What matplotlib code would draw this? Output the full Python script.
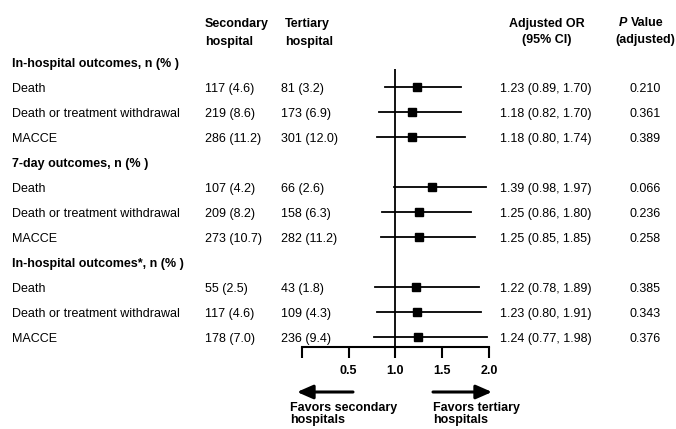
import matplotlib
matplotlib.use("Agg")
import matplotlib.pyplot as plt
from matplotlib import transforms

plt.rcParams['font.family'] = ['Liberation Sans', 'DejaVu Sans']

# ---- data ----
groups = ["In-hospital outcomes, n (% )", "7-day outcomes, n (% )", "In-hospital outcomes*, n (% )"]
outcomes = ["Death", "Death or treatment withdrawal", "MACCE"]
secondary = ["117 (4.6)", "219 (8.6)", "286 (11.2)",
             "107 (4.2)", "209 (8.2)", "273 (10.7)",
             "55 (2.5)", "117 (4.6)", "178 (7.0)"]
tertiary = ["81 (3.2)", "173 (6.9)", "301 (12.0)",
            "66 (2.6)", "158 (6.3)", "282 (11.2)",
            "43 (1.8)", "109 (4.3)", "236 (9.4)"]
odds_ratio = [1.23, 1.18, 1.18, 1.39, 1.25, 1.25, 1.22, 1.23, 1.24]
ci_low = [0.89, 0.82, 0.80, 0.98, 0.86, 0.85, 0.78, 0.80, 0.77]
ci_high = [1.70, 1.70, 1.74, 1.97, 1.80, 1.85, 1.89, 1.91, 1.98]
p_values = ["0.210", "0.361", "0.389", "0.066", "0.236", "0.258", "0.385", "0.343", "0.376"]
x_ticks = [0.0, 0.5, 1.0, 1.5, 2.0]
x_tick_labels = ["", "0.5", "1.0", "1.5", "2.0"]

W, H = 676, 429
fig = plt.figure(figsize=(W / 100, H / 100), dpi=100)

def fx(px):
    return px / W

def fy(py):
    return 1 - py / H

# forest axes: x 0..2 at px 301.6..489.3; row i at y = 62.3 + 25 i
row0, pitch = 62.3, 25.0
top_px, bot_px = 69.0, 347.0
ax = fig.add_axes([fx(301.6), fy(bot_px), fx(489.3) - fx(301.6), (bot_px - top_px) / H])
ax.set_xlim(0, 2)
ax.set_ylim((bot_px - row0) / pitch, (top_px - row0) / pitch)
for s in ["top", "right", "left"]:
    ax.spines[s].set_visible(False)
ax.spines["bottom"].set_linewidth(1.5)
ax.set_yticks([])
ax.set_xticks(x_ticks)
ax.set_xticklabels(x_tick_labels, fontweight="bold", fontsize=9)
ax.tick_params(axis="x", direction="out", length=8, width=1.5, pad=5)
ax.axvline(1.0, color="black", lw=1.3)

# rows
row_idx = []
for g in range(len(groups)):
    for k in range(len(outcomes)):
        row_idx.append(g * 4 + 1 + k)

for i, r in enumerate(row_idx):
    ax.plot([ci_low[i], ci_high[i]], [r, r], color="black", lw=1.3, clip_on=False)
    ax.plot([odds_ratio[i]], [r], marker="s", color="black", markersize=5.6, clip_on=False)

tr = transforms.blended_transform_factory(fig.transFigure, ax.transData)
fs = 9
for g, name in enumerate(groups):
    ax.text(fx(12), g * 4, name, transform=tr, fontsize=fs, fontweight="bold",
            ha="left", va="center_baseline", clip_on=False)
for i, r in enumerate(row_idx):
    ax.text(fx(12), r, outcomes[i % 3], transform=tr, fontsize=fs, ha="left", va="center_baseline")
    ax.text(fx(205), r, secondary[i], transform=tr, fontsize=fs, ha="left", va="center_baseline")
    ax.text(fx(281), r, tertiary[i], transform=tr, fontsize=fs, ha="left", va="center_baseline")
    ax.text(fx(546), r, f"{odds_ratio[i]:.2f} ({ci_low[i]:.2f}, {ci_high[i]:.2f})",
            transform=tr, fontsize=fs, ha="center", va="center_baseline")
    ax.text(fx(645), r, p_values[i], transform=tr, fontsize=fs, ha="center", va="center_baseline")

# headers
hdr = dict(fontsize=fs, fontweight="bold", va="center_baseline")
fig.text(fx(205), fy(23), "Secondary", ha="left", **hdr)
fig.text(fx(205), fy(40), "hospital", ha="left", **hdr)
fig.text(fx(285), fy(23), "Tertiary", ha="left", **hdr)
fig.text(fx(285), fy(40), "hospital", ha="left", **hdr)
fig.text(fx(547), fy(22), "Adjusted OR", ha="center", **hdr)
fig.text(fx(547), fy(38), "(95% CI)", ha="center", **hdr)
fig.text(fx(627), fy(22), "P", ha="right", style="italic", **hdr)
fig.text(fx(631), fy(22), "Value", ha="left", **hdr)
fig.text(fx(645), fy(38), "(adjusted)", ha="center", **hdr)

# arrows
arrow_kw = dict(arrowstyle="-|>,head_length=0.8,head_width=0.35", color="black", lw=2.2,
                shrinkA=0, shrinkB=0)
fig.add_artist(matplotlib.patches.FancyArrowPatch((fx(353), fy(392)), (fx(297), fy(392)),
                                                  transform=fig.transFigure, mutation_scale=12, **arrow_kw))
fig.add_artist(matplotlib.patches.FancyArrowPatch((fx(433), fy(392)), (fx(492), fy(392)),
                                                  transform=fig.transFigure, mutation_scale=12, **arrow_kw))
fig.text(fx(290), fy(406), "Favors secondary", ha="left", **hdr)
fig.text(fx(290), fy(419), "hospitals", ha="left", **hdr)
fig.text(fx(433), fy(406), "Favors tertiary", ha="left", **hdr)
fig.text(fx(433), fy(419), "hospitals", ha="left", **hdr)

fig.savefig("out.png", dpi=100)
